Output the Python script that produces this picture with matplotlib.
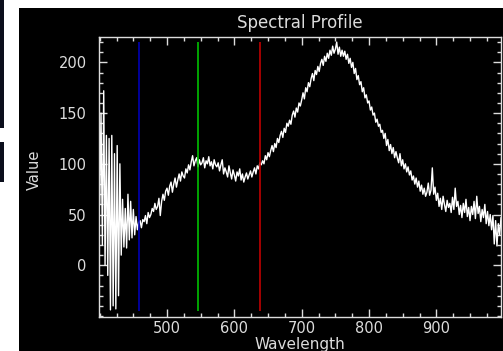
import numpy as np
import matplotlib
matplotlib.use("Agg")
import matplotlib.pyplot as plt
from matplotlib.patches import Rectangle
from matplotlib.ticker import MultipleLocator

# spectrum sampled every 2 nm from 400 nm
wl_start = 400
wl_step = 2

noisy_blue = [60, 150, 20, 172, 0, 128, -10, 125, -44, 128,
              -40, 110, -43, 118, -30, 100, 10, 65, 18, 56,
              17, 70, 25, 63, 27, 55, 30, 48, 35, 42]
rise_green = [44, 37, 45, 43, 49, 41, 52, 47, 50, 56,
              53, 61, 55, 58, 66, 49, 63, 70, 64, 73,
              76, 69, 78, 82, 72, 80, 86, 77, 84, 90,
              83, 92, 88, 86, 95, 91, 99, 94, 102, 108,
              98, 103, 106]
plateau = [97, 104, 99, 101, 106, 96, 103, 100, 107, 98,
           102, 95, 104, 99, 97, 101, 93, 99, 104, 90,
           96, 92, 87, 98, 91, 85, 94, 89, 83, 92,
           88, 95, 84, 90, 82, 87, 91, 85, 89, 93,
           87, 92, 96, 90, 98, 95, 101, 99]
peak_rise = [103, 100, 108, 104, 111, 107, 113, 118, 112, 120,
             116, 125, 121, 128, 132, 126, 135, 131, 140, 137,
             143, 139, 148, 152, 146, 155, 151, 160, 157, 163,
             170, 164, 175, 171, 180, 176, 184, 189, 182, 192,
             188, 196, 191, 199, 203, 197, 206, 201, 209, 204,
             212, 207, 216, 209, 213, 220, 208, 215, 206, 212]
peak_fall = [206, 211, 203, 208, 199, 204, 195, 200, 189, 194,
             183, 187, 178, 181, 171, 175, 165, 168, 160, 162,
             153, 156, 148, 150, 141, 144, 137, 139, 131, 133,
             125, 130, 118, 124, 113, 119, 110, 116, 106, 112,
             106, 101, 110, 98, 104, 95, 100, 92, 97, 89]
tail = [93, 84, 88, 80, 86, 77, 83, 73, 79, 70,
        76, 68, 72, 81, 69, 74, 96, 70, 77, 64,
        71, 58, 66, 55, 68, 60, 53, 64, 57, 61,
        52, 67, 55, 76, 58, 63, 50, 59, 47, 61,
        52, 65, 48, 57, 44, 58, 50, 63, 46, 68,
        51, 58, 43, 55, 47, 60, 41, 53, 39, 50,
        35, 49, 21, 44, 19, 41, 30, 47, 38]

values = noisy_blue + rise_green + plateau + peak_rise + peak_fall + tail
wavelength = wl_start + wl_step * np.arange(len(values))

x_ticks = [500, 600, 700, 800, 900]
y_ticks = [0, 50, 100, 150, 200]

marker_wl = [459, 546, 638]
marker_colors = ["#0000b4", "#00c000", "#c00000"]

fg = "#dcdcdc"
W, H = 503, 351

fig = plt.figure(figsize=(W / 100, H / 100), dpi=100, facecolor="white")
fig.patches.append(Rectangle((19 / W, 0), 484 / W, 343 / H, transform=fig.transFigure,
                             facecolor="black", edgecolor="none", zorder=-5))
fig.patches.append(Rectangle((0, 1 - 128 / H), 4 / W, 128 / H, transform=fig.transFigure,
                             facecolor="#0b0e1c", edgecolor="none", zorder=-5))
fig.patches.append(Rectangle((0, 1 - 182 / H), 4 / W, 40 / H, transform=fig.transFigure,
                             facecolor="#0b0e1c", edgecolor="none", zorder=-5))

ax = fig.add_axes([99 / W, (H - 317) / H, 402 / W, 280 / H])
ax.set_facecolor("black")
ax.plot(wavelength, values, color="white", lw=1.0)
ax.vlines(marker_wl, -45, 220, colors=marker_colors, lw=1.2)

ax.set_xlim(399, 996)
ax.set_ylim(-51, 225)
ax.set_xticks(x_ticks)
ax.set_yticks(y_ticks)
ax.xaxis.set_minor_locator(MultipleLocator(25))
ax.yaxis.set_minor_locator(MultipleLocator(10))
ax.tick_params(which="both", direction="in", top=True, right=True, color=fg, width=1)
ax.tick_params(which="major", length=6)
ax.tick_params(which="minor", length=3)
ax.tick_params(axis="x", labelsize=10.5, labelcolor=fg, pad=3)
ax.tick_params(axis="y", labelsize=10.5, labelcolor=fg, pad=9)
for s in ax.spines.values():
    s.set_color(fg)
    s.set_linewidth(1)

fig.text(300 / W, 1 - 23 / H, "Spectral Profile", color=fg, fontsize=12,
         ha="center", va="center")
fig.text(300 / W, 1 - 345 / H, "Wavelength", color=fg, fontsize=11,
         ha="center", va="center")
fig.text(34 / W, 1 - 170 / H, "Value", color=fg, fontsize=10.5,
         ha="center", va="center", rotation=90)

fig.savefig("out.png", dpi=100, facecolor="white")
